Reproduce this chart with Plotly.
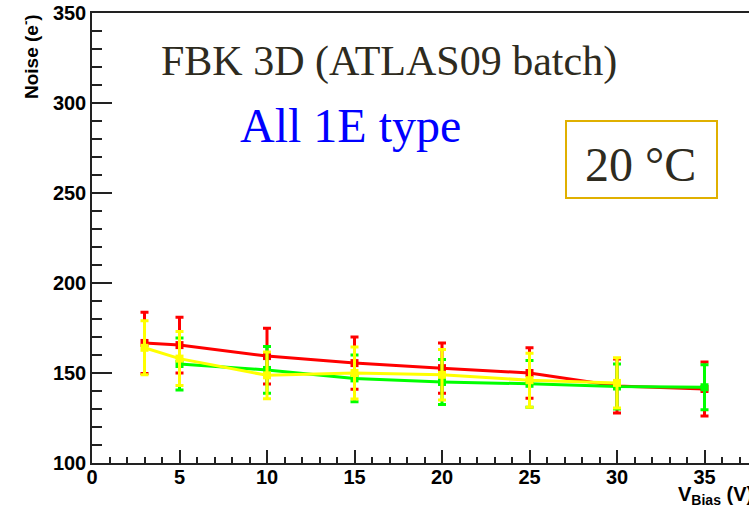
import plotly.graph_objects as go

# Data (V_Bias in V, Noise in e-)
red_x = [3, 5, 10, 15, 20, 25, 30, 35]
red_y = [166.7, 165.5, 159.4, 155.5, 152.7, 150.0, 142.8, 141.1]
red_err = [17, 15.5, 15.5, 14.5, 14, 14, 15, 15]

green_x = [5, 10, 15, 20, 25, 30, 35]
green_y = [155.0, 151.7, 147.0, 145.0, 144.0, 142.5, 142.1]
green_err = [14.5, 13, 13, 12.5, 13, 12.5, 12.5]

yellow_x = [3, 5, 10, 15, 20, 25, 30]
yellow_y = [164.0, 158.0, 148.7, 150.0, 149.0, 146.0, 144.5]
yellow_err = [15, 15, 13, 14.5, 14, 15, 14]

x_ticks = [0, 5, 10, 15, 20, 25, 30, 35]
y_ticks = [100, 150, 200, 250, 300, 350]

W, H = 749, 512
L, T, B = 92, 13, 49
PW, PH = W - L, H - T - B


def px(xp):
    return (xp - L) / PW


def py(yp):
    return (H - B - yp) / PH


fig = go.Figure()
for xs, ys, es, col in [(red_x, red_y, red_err, "#ff0000"),
                        (green_x, green_y, green_err, "#00ff00"),
                        (yellow_x, yellow_y, yellow_err, "#ffff00")]:
    fig.add_trace(go.Scatter(
        x=xs, y=ys, mode="lines+markers",
        line=dict(color=col, width=3),
        marker=dict(symbol="square", size=8, color=col),
        error_y=dict(type="data", array=es, color=col, thickness=3, width=4),
        showlegend=False))

axis_font = dict(family="Liberation Sans", size=20, color="black", weight="bold")

fig.update_layout(
    width=W, height=H,
    margin=dict(l=L, r=0, t=T, b=B),
    plot_bgcolor="white", paper_bgcolor="white",
    xaxis=dict(range=[0, PW / 17.5], tickvals=x_ticks, ticks="inside", ticklen=13,
               tickwidth=1.5, tickcolor="#222", showline=True, linecolor="#222",
               linewidth=1.5, mirror=True, showgrid=False, zeroline=False,
               tickfont=axis_font, ticklabelstandoff=-5,
               minor=dict(ticks="inside", dtick=1, ticklen=6, tickwidth=1.5,
                          tickcolor="#222", showgrid=False)),
    yaxis=dict(range=[100, 350], tickvals=y_ticks, ticks="inside", ticklen=20,
               tickwidth=1.5, tickcolor="#222", showline=True, linecolor="#222",
               linewidth=1.5, showgrid=False, zeroline=False,
               tickfont=axis_font,
               minor=dict(ticks="inside", dtick=10, ticklen=10, tickwidth=1.5,
                          tickcolor="#222", showgrid=False)),
)


def note(x, y, text, font, **kw):
    opts = dict(xanchor="center", yanchor="middle")
    opts.update(kw)
    fig.add_annotation(xref="paper", yref="paper", x=px(x), y=py(y), text=text,
                       showarrow=False, font=font, **opts)


note(30, 57, "Noise (e<sup>-</sup>)",
     dict(family="Liberation Sans", size=19, color="black", weight="bold"), textangle=-90)
note(676, 496, "V<sub>Bias</sub> (V)",
     dict(family="Liberation Sans", size=20, color="black", weight="bold"), xanchor="left")

note(389, 61, "FBK 3D (ATLAS09 batch)",
     dict(family="Liberation Serif", size=42, color="#2e2b20"))
note(350, 126, "All 1E type",
     dict(family="Liberation Serif", size=48, color="#0000ff"))
fig.add_shape(type="rect", xref="paper", yref="paper",
              x0=px(566), x1=px(717), y0=py(198), y1=py(121),
              line=dict(color="#e0b000", width=2), fillcolor="white")
note(640.5, 165, "20 °C", dict(family="Liberation Serif", size=48, color="#2e2b20"))

fig.write_html("out.html")
